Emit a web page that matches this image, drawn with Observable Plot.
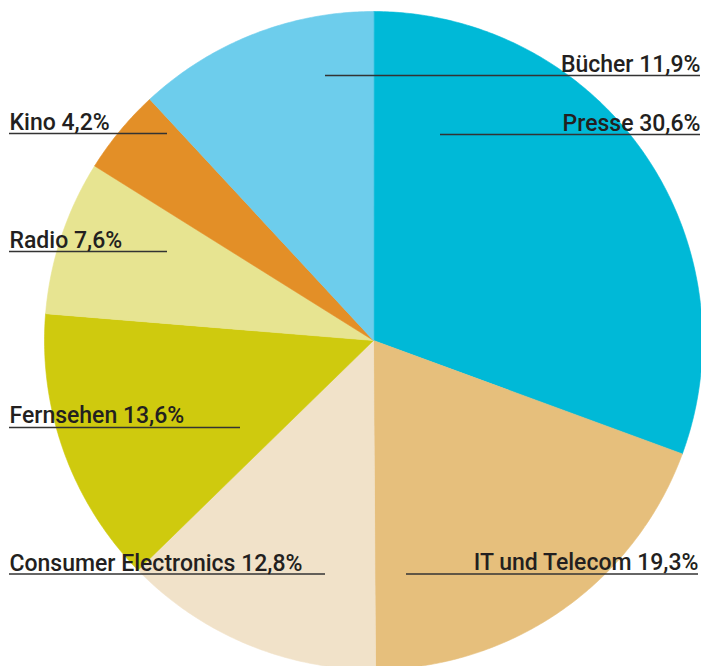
<!DOCTYPE html>
<html>
<head>
<meta charset="utf-8">
<script src="https://cdn.jsdelivr.net/npm/d3@7"></script>
<script src="https://cdn.jsdelivr.net/npm/@observablehq/plot@0.6"></script>
<style>
  html, body { margin: 0; padding: 0; background: #fff; }
</style>
</head>
<body>
<div id="chart"></div>
<script>
// Data (clockwise from 12 o'clock)
const categories = ["Presse", "IT und Telecom", "Consumer Electronics", "Fernsehen", "Radio", "Kino", "Bücher"];
const shares = [30.6, 19.3, 12.8, 13.6, 7.6, 4.2, 11.9];
const colors = ["#00b9d7", "#e6bf7c", "#f1e2c9", "#cfca0e", "#e7e491", "#e38f27", "#6dcdec"];

// Layout of labels (pixel space of the chart)
const labelLayout = [
  {name: "Bücher", x: 700, anchor: "end", y: 71, ly: 75, x1: 325, x2: 700},
  {name: "Presse", x: 700, anchor: "end", y: 130, ly: 134, x1: 440, x2: 700},
  {name: "Kino", x: 9, anchor: "start", y: 129, ly: 133, x1: 9, x2: 167},
  {name: "Radio", x: 9, anchor: "start", y: 247, ly: 251, x1: 9, x2: 167},
  {name: "Fernsehen", x: 9, anchor: "start", y: 422, ly: 427, x1: 9, x2: 240},
  {name: "Consumer Electronics", x: 9, anchor: "start", y: 570, ly: 573.5, x1: 9, x2: 325},
  {name: "IT und Telecom", x: 698, anchor: "end", y: 569, ly: 573.5, x1: 406, x2: 698}
];

const W = 701, H = 666;
const cx = 373, cy = 340, R = 329;

// Build slice polygons from the shares
const total = d3.sum(shares);
const poly = [];
let cum = 0;
categories.forEach((c, i) => {
  const a0 = cum / total * 2 * Math.PI;
  cum += shares[i];
  const a1 = cum / total * 2 * Math.PI;
  poly.push({cat: c, x: cx, y: cy});
  const n = Math.max(8, Math.ceil((a1 - a0) / 0.01));
  for (let k = 0; k <= n; k++) {
    const a = a0 + (a1 - a0) * k / n;
    poly.push({cat: c, x: cx + R * Math.sin(a), y: cy - R * Math.cos(a)});
  }
});

const fmt = v => d3.format(".1f")(v).replace(".", ",");
const labels = labelLayout.map(l => {
  const i = categories.indexOf(l.name);
  return {...l, text: `${l.name} ${fmt(shares[i])}%`};
});

const font = {fontFamily: "Roboto, 'Open Sans', sans-serif", fontSize: 23, fontWeight: 500, fill: "#231f20"};

const chart = Plot.plot({
  width: W,
  height: H,
  margin: 0,
  x: {domain: [0, W], range: [0, W], axis: null},
  y: {domain: [0, H], range: [0, H], axis: null},
  color: {domain: categories, range: colors},
  style: {background: "#fff", overflow: "visible"},
  marks: [
    Plot.line(poly, {x: "x", y: "y", z: "cat", fill: "cat", stroke: "cat", strokeWidth: 0.6, curve: "linear-closed"}),
    Plot.ruleY(labels, {y: "ly", x1: "x1", x2: "x2", stroke: "#333", strokeWidth: 1.4}),
    Plot.text(labels.filter(d => d.anchor === "start"), {x: "x", y: "y", text: "text", textAnchor: "start", lineAnchor: "bottom", ...font}),
    Plot.text(labels.filter(d => d.anchor === "end"), {x: "x", y: "y", text: "text", textAnchor: "end", lineAnchor: "bottom", ...font})
  ]
});
document.getElementById("chart").appendChild(chart);
</script>
</body>
</html>
